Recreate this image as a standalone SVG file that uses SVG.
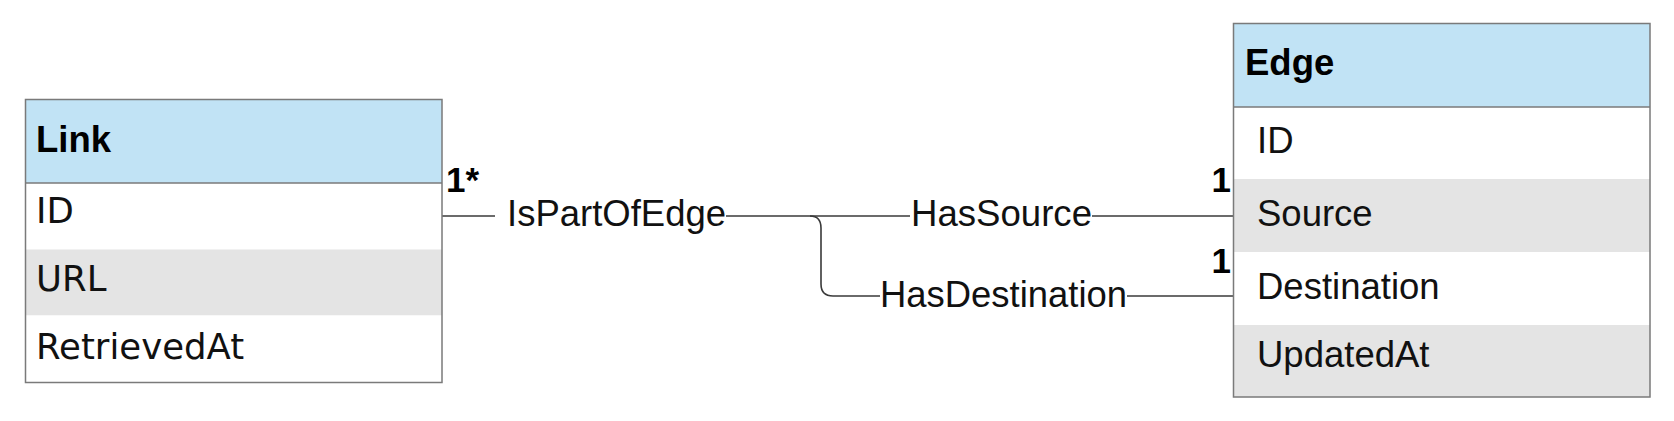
<svg xmlns="http://www.w3.org/2000/svg" width="1674" height="421" viewBox="0 0 1674 421">
<style>
.hdr{fill:#c1e3f5}
.gray{fill:#e4e4e4}
.white{fill:#ffffff}
.frame{fill:none;stroke:#7a7a7a;stroke-width:1.5}
.title{font-family:"Liberation Sans",Arial,sans-serif;font-weight:bold;font-size:36.5px;fill:#000}
.rowL{font-family:"DejaVu Sans",sans-serif;font-size:35.5px;fill:#111}
.rowE{font-family:"Liberation Sans",Arial,sans-serif;font-size:36.5px;fill:#111}
.lbl{font-family:"Liberation Sans",Arial,sans-serif;font-size:36.5px;fill:#111}
.mult{font-family:"Liberation Sans",Arial,sans-serif;font-weight:bold;font-size:35px;fill:#000}
.conn{fill:none;stroke:#3a3a3a;stroke-width:1.6}
</style>
<rect width="1674" height="421" fill="#ffffff"/>
<g id="connectors">
<path class="conn" d="M442 216 H495"/>
<path class="conn" d="M726 216 H910"/>
<path class="conn" d="M1092 216 H1233"/>
<path class="conn" d="M810 216 Q821 216 821 228 V284 Q821 296 833 296 H880"/>
<path class="conn" d="M1127 296 H1233"/>
<text class="lbl" x="507" y="226" textLength="219" lengthAdjust="spacingAndGlyphs">IsPartOfEdge</text>
<text class="lbl" x="911" y="226" textLength="181" lengthAdjust="spacingAndGlyphs">HasSource</text>
<text class="lbl" x="880" y="307" textLength="247" lengthAdjust="spacingAndGlyphs">HasDestination</text>
<text class="mult" x="446" y="192">1*</text>
<text class="mult" x="1231" y="192" text-anchor="end">1</text>
<text class="mult" x="1231" y="273" text-anchor="end">1</text>
</g>
<g id="node-link">
<rect class="hdr" x="25.5" y="99.5" width="416.5" height="83.5"/>
<rect class="white" x="25.5" y="183" width="416.5" height="66.5"/>
<rect class="gray" x="25.5" y="249.5" width="416.5" height="66"/>
<rect class="white" x="25.5" y="315.5" width="416.5" height="67"/>
<rect class="frame" x="25.5" y="99.5" width="416.5" height="283"/>
<line class="frame" x1="25.5" y1="183" x2="442" y2="183"/>
<text class="title" x="36" y="152">Link</text>
<text class="rowL" x="36" y="223">ID</text>
<text class="rowL" x="36" y="291">URL</text>
<text class="rowL" x="36" y="359">RetrievedAt</text>
</g>
<g id="node-edge">
<rect class="hdr" x="1233.5" y="23.5" width="416.5" height="83.5"/>
<rect class="white" x="1233.5" y="107" width="416.5" height="72"/>
<rect class="gray" x="1233.5" y="179" width="416.5" height="73"/>
<rect class="white" x="1233.5" y="252" width="416.5" height="73"/>
<rect class="gray" x="1233.5" y="325" width="416.5" height="72"/>
<rect class="frame" x="1233.5" y="23.5" width="416.5" height="373.5"/>
<line class="frame" x1="1233.5" y1="107" x2="1650" y2="107"/>
<text class="title" x="1245" y="75">Edge</text>
<text class="rowE" x="1257" y="153">ID</text>
<text class="rowE" x="1257" y="226">Source</text>
<text class="rowE" x="1257" y="299">Destination</text>
<text class="rowE" x="1257" y="367">UpdatedAt</text>
</g>
</svg>
